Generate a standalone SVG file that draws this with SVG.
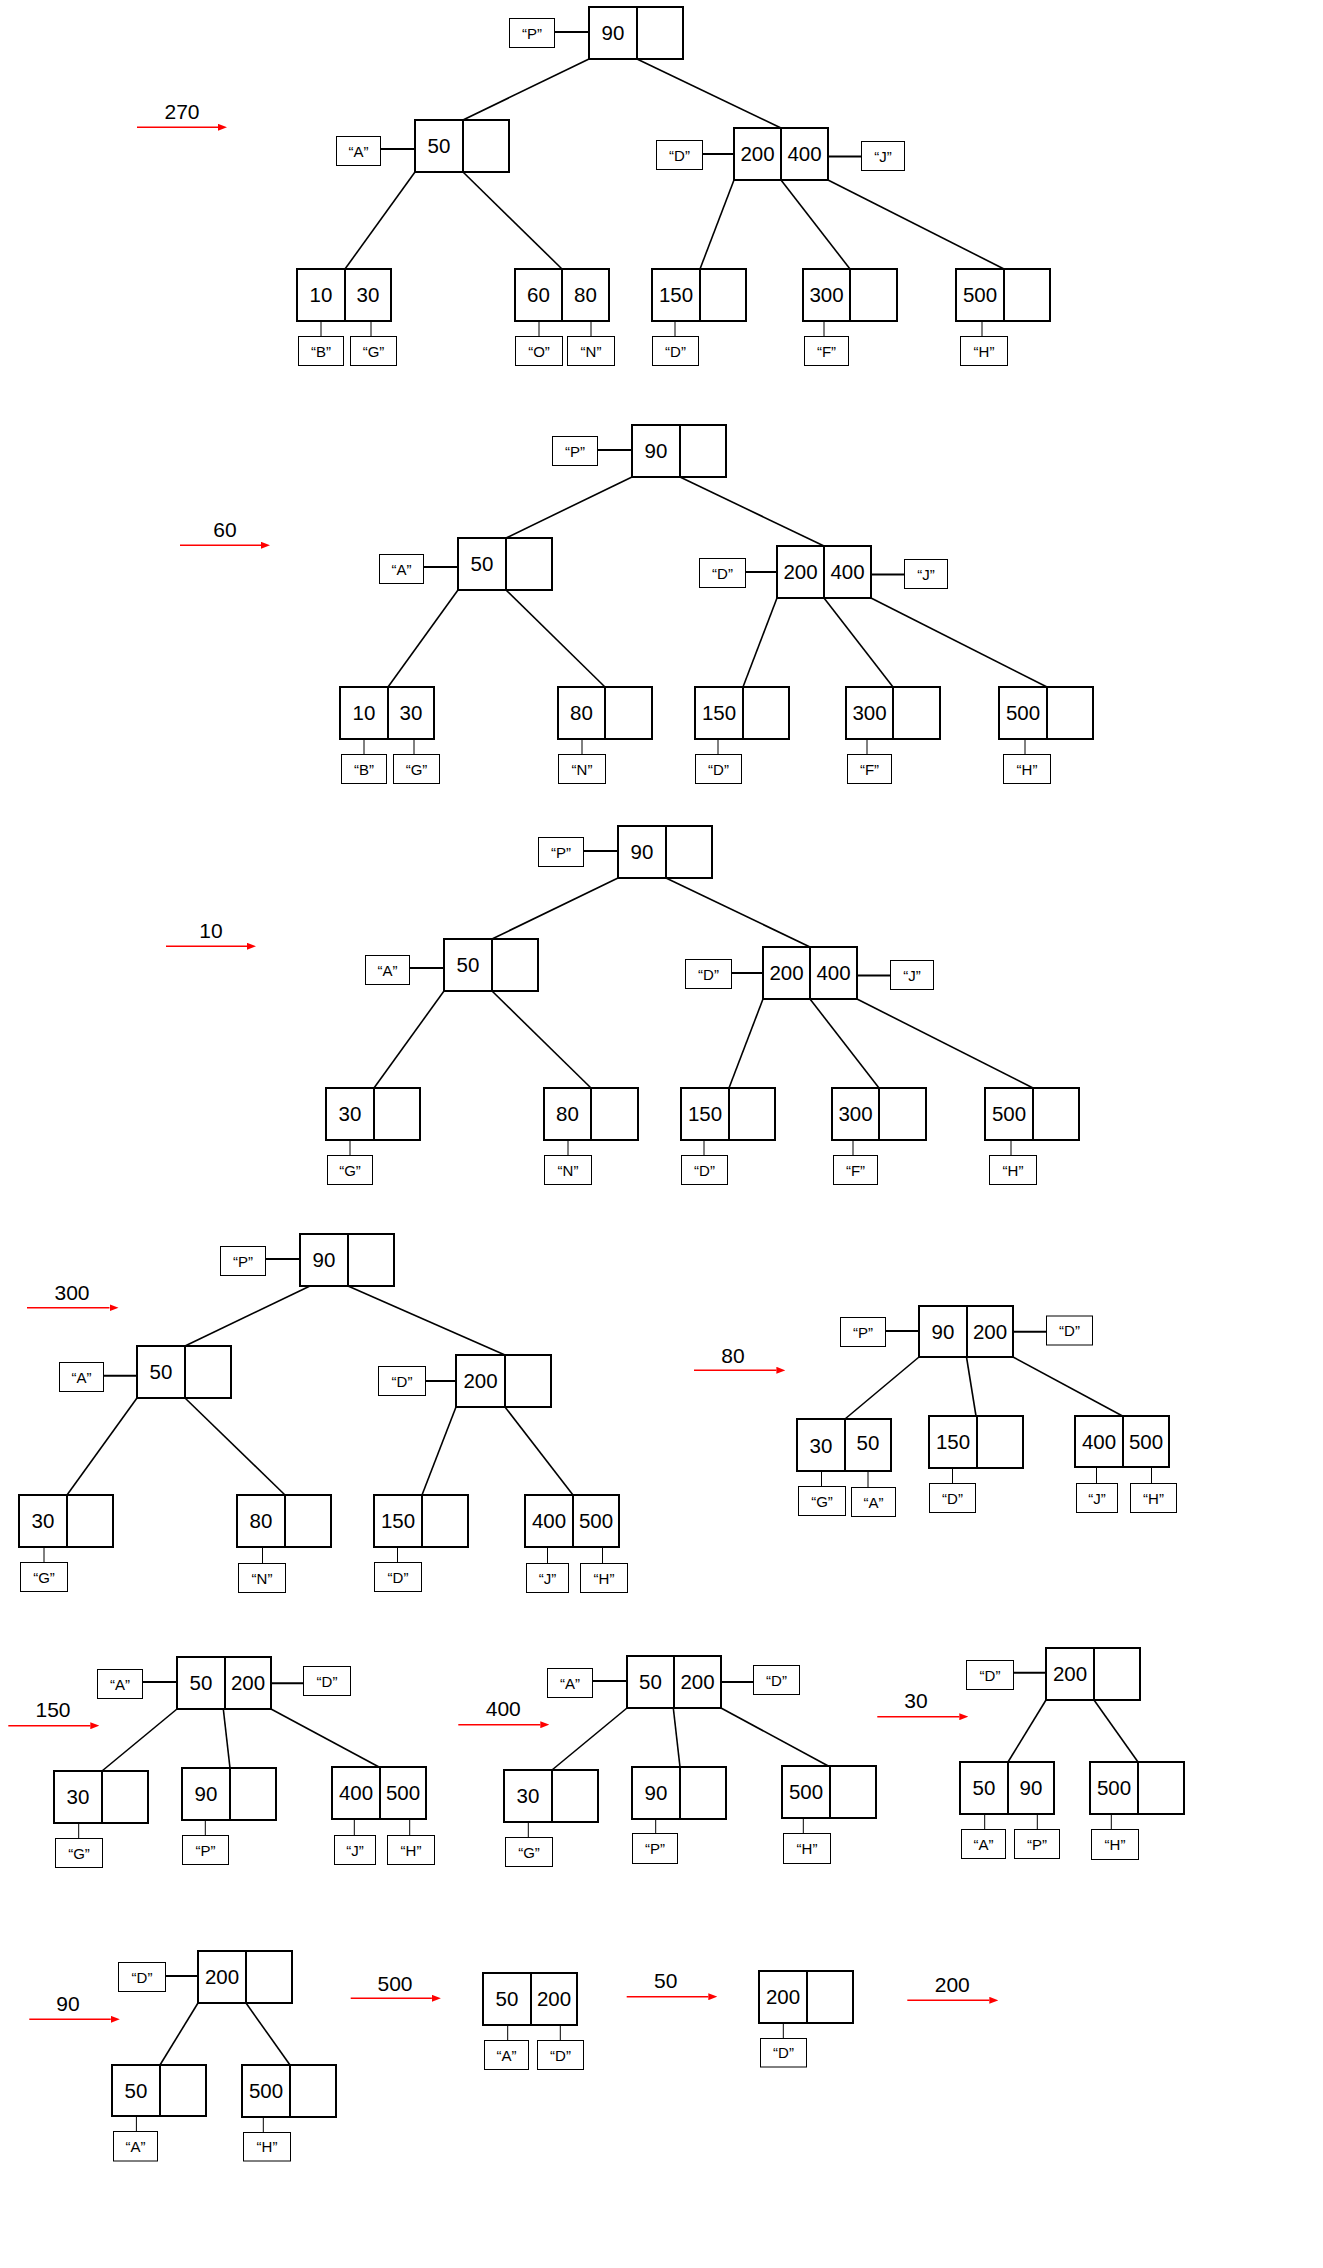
<svg xmlns="http://www.w3.org/2000/svg" width="1323" height="2268" viewBox="0 0 1323 2268">
<style>
.cell{fill:#fff;stroke:#000;stroke-width:2}
.dv{stroke:#000;stroke-width:2}
.lbl{fill:#fff;stroke:#000;stroke-width:1}
.edge{stroke:#000;stroke-width:1.6;fill:none}
.link{stroke:#000;stroke-width:2}
.stem{stroke:#000;stroke-width:1}
.arr{stroke:#f00;stroke-width:1.4;marker-end:url(#ah)}
text{font-family:"Liberation Sans",Arial,sans-serif;fill:#000;text-anchor:middle}
.num{font-size:20.5px}
.lt{font-size:15px}
.st{font-size:21px}
</style>
<defs>
<marker id="ah" markerWidth="9" markerHeight="7" refX="0" refY="3.5" orient="auto" markerUnits="userSpaceOnUse"><path d="M0,0 L9,3.5 L0,7 z" fill="#f00"/></marker>
</defs>
<rect width="1323" height="2268" fill="#fff"/>

<!-- ===== Tree 1 (delete 270) ===== -->
<g id="tree1">
<g id="t1-connectors">
<line class="arr" x1="137" y1="127.3" x2="218" y2="127.3"/>
<line class="edge" x1="589" y1="59" x2="463" y2="120"/>
<line class="edge" x1="637" y1="59" x2="781" y2="128"/>
<line class="edge" x1="415" y1="172" x2="345" y2="269"/>
<line class="edge" x1="463" y1="172" x2="562" y2="269"/>
<line class="edge" x1="734" y1="180" x2="700" y2="269"/>
<line class="edge" x1="781" y1="180" x2="850" y2="269"/>
<line class="edge" x1="828" y1="180" x2="1004" y2="269"/>
<line class="link" x1="554.5" y1="32" x2="589" y2="32"/>
<line class="link" x1="380.5" y1="149" x2="415" y2="149"/>
<line class="link" x1="702.5" y1="154" x2="734" y2="154"/>
<line class="link" x1="828" y1="156.5" x2="861.5" y2="156.5"/>
<line class="stem" x1="321" y1="321" x2="321" y2="336"/>
<line class="stem" x1="371" y1="321" x2="371" y2="336"/>
<line class="stem" x1="539" y1="321" x2="539" y2="336"/>
<line class="stem" x1="591" y1="321" x2="591" y2="336"/>
<line class="stem" x1="675" y1="321" x2="675" y2="336"/>
<line class="stem" x1="824" y1="321" x2="824" y2="336"/>
<line class="stem" x1="982" y1="321" x2="982" y2="336"/>
</g>
<text class="st" x="182" y="119">270</text>
<g id="t1-n90"><rect class="cell" x="589" y="7" width="94" height="52"/><line class="dv" x1="637" y1="7" x2="637" y2="59"/><text class="num" x="613" y="40">90</text></g>
<g id="t1-n50"><rect class="cell" x="415" y="120" width="94" height="52"/><line class="dv" x1="463" y1="120" x2="463" y2="172"/><text class="num" x="439" y="153">50</text></g>
<g id="t1-n200"><rect class="cell" x="734" y="128" width="94" height="52"/><line class="dv" x1="781" y1="128" x2="781" y2="180"/><text class="num" x="757.5" y="161">200</text><text class="num" x="804.5" y="161">400</text></g>
<g id="t1-n10"><rect class="cell" x="297" y="269" width="94" height="52"/><line class="dv" x1="345" y1="269" x2="345" y2="321"/><text class="num" x="321" y="302">10</text><text class="num" x="368" y="302">30</text></g>
<g id="t1-n60"><rect class="cell" x="515" y="269" width="94" height="52"/><line class="dv" x1="562" y1="269" x2="562" y2="321"/><text class="num" x="538.5" y="302">60</text><text class="num" x="585.5" y="302">80</text></g>
<g id="t1-n150"><rect class="cell" x="652" y="269" width="94" height="52"/><line class="dv" x1="700" y1="269" x2="700" y2="321"/><text class="num" x="676" y="302">150</text></g>
<g id="t1-n300"><rect class="cell" x="803" y="269" width="94" height="52"/><line class="dv" x1="850" y1="269" x2="850" y2="321"/><text class="num" x="826.5" y="302">300</text></g>
<g id="t1-n500"><rect class="cell" x="956" y="269" width="94" height="52"/><line class="dv" x1="1004" y1="269" x2="1004" y2="321"/><text class="num" x="980" y="302">500</text></g>
<g id="t1-lP"><rect class="lbl" x="509.5" y="18.5" width="45" height="29"/><text class="lt" x="532" y="38.5">“P”</text></g>
<g id="t1-lA"><rect class="lbl" x="336.5" y="136.5" width="44" height="29"/><text class="lt" x="358.5" y="156.5">“A”</text></g>
<g id="t1-lD"><rect class="lbl" x="656.5" y="140.5" width="46" height="29"/><text class="lt" x="679.5" y="160.5">“D”</text></g>
<g id="t1-lJ"><rect class="lbl" x="861.5" y="141.5" width="43" height="29"/><text class="lt" x="883" y="161.5">“J”</text></g>
<g id="t1-lB"><rect class="lbl" x="298.5" y="336.5" width="45" height="29"/><text class="lt" x="321" y="356.5">“B”</text></g>
<g id="t1-lG"><rect class="lbl" x="350.5" y="336.5" width="46" height="29"/><text class="lt" x="373.5" y="356.5">“G”</text></g>
<g id="t1-lO"><rect class="lbl" x="515.5" y="336.5" width="47" height="29"/><text class="lt" x="539" y="356.5">“O”</text></g>
<g id="t1-lN"><rect class="lbl" x="567.5" y="336.5" width="47" height="29"/><text class="lt" x="591" y="356.5">“N”</text></g>
<g id="t1-lD2"><rect class="lbl" x="652.5" y="336.5" width="46" height="29"/><text class="lt" x="675.5" y="356.5">“D”</text></g>
<g id="t1-lF"><rect class="lbl" x="804.5" y="336.5" width="44" height="29"/><text class="lt" x="826.5" y="356.5">“F”</text></g>
<g id="t1-lH"><rect class="lbl" x="960.5" y="336.5" width="47" height="29"/><text class="lt" x="984" y="356.5">“H”</text></g>
</g>

<!-- ===== Tree 2 (delete 60) ===== -->
<g id="tree2" transform="translate(43,418)">
<g id="t2-connectors">
<line class="arr" x1="137" y1="127.3" x2="218" y2="127.3"/>
<line class="edge" x1="589" y1="59" x2="463" y2="120"/>
<line class="edge" x1="637" y1="59" x2="781" y2="128"/>
<line class="edge" x1="415" y1="172" x2="345" y2="269"/>
<line class="edge" x1="463" y1="172" x2="562" y2="269"/>
<line class="edge" x1="734" y1="180" x2="700" y2="269"/>
<line class="edge" x1="781" y1="180" x2="850" y2="269"/>
<line class="edge" x1="828" y1="180" x2="1004" y2="269"/>
<line class="link" x1="554.5" y1="32" x2="589" y2="32"/>
<line class="link" x1="380.5" y1="149" x2="415" y2="149"/>
<line class="link" x1="702.5" y1="154" x2="734" y2="154"/>
<line class="link" x1="828" y1="156.5" x2="861.5" y2="156.5"/>
<line class="stem" x1="321" y1="321" x2="321" y2="336"/>
<line class="stem" x1="371" y1="321" x2="371" y2="336"/>
<line class="stem" x1="539" y1="321" x2="539" y2="336"/>
<line class="stem" x1="675" y1="321" x2="675" y2="336"/>
<line class="stem" x1="824" y1="321" x2="824" y2="336"/>
<line class="stem" x1="982" y1="321" x2="982" y2="336"/>
</g>
<text class="st" x="182" y="119">60</text>
<g id="t2-n90"><rect class="cell" x="589" y="7" width="94" height="52"/><line class="dv" x1="637" y1="7" x2="637" y2="59"/><text class="num" x="613" y="40">90</text></g>
<g id="t2-n50"><rect class="cell" x="415" y="120" width="94" height="52"/><line class="dv" x1="463" y1="120" x2="463" y2="172"/><text class="num" x="439" y="153">50</text></g>
<g id="t2-n200"><rect class="cell" x="734" y="128" width="94" height="52"/><line class="dv" x1="781" y1="128" x2="781" y2="180"/><text class="num" x="757.5" y="161">200</text><text class="num" x="804.5" y="161">400</text></g>
<g id="t2-n10"><rect class="cell" x="297" y="269" width="94" height="52"/><line class="dv" x1="345" y1="269" x2="345" y2="321"/><text class="num" x="321" y="302">10</text><text class="num" x="368" y="302">30</text></g>
<g id="t2-n80"><rect class="cell" x="515" y="269" width="94" height="52"/><line class="dv" x1="562" y1="269" x2="562" y2="321"/><text class="num" x="538.5" y="302">80</text></g>
<g id="t2-n150"><rect class="cell" x="652" y="269" width="94" height="52"/><line class="dv" x1="700" y1="269" x2="700" y2="321"/><text class="num" x="676" y="302">150</text></g>
<g id="t2-n300"><rect class="cell" x="803" y="269" width="94" height="52"/><line class="dv" x1="850" y1="269" x2="850" y2="321"/><text class="num" x="826.5" y="302">300</text></g>
<g id="t2-n500"><rect class="cell" x="956" y="269" width="94" height="52"/><line class="dv" x1="1004" y1="269" x2="1004" y2="321"/><text class="num" x="980" y="302">500</text></g>
<g id="t2-lP"><rect class="lbl" x="509.5" y="18.5" width="45" height="29"/><text class="lt" x="532" y="38.5">“P”</text></g>
<g id="t2-lA"><rect class="lbl" x="336.5" y="136.5" width="44" height="29"/><text class="lt" x="358.5" y="156.5">“A”</text></g>
<g id="t2-lD"><rect class="lbl" x="656.5" y="140.5" width="46" height="29"/><text class="lt" x="679.5" y="160.5">“D”</text></g>
<g id="t2-lJ"><rect class="lbl" x="861.5" y="141.5" width="43" height="29"/><text class="lt" x="883" y="161.5">“J”</text></g>
<g id="t2-lB"><rect class="lbl" x="298.5" y="336.5" width="45" height="29"/><text class="lt" x="321" y="356.5">“B”</text></g>
<g id="t2-lG"><rect class="lbl" x="350.5" y="336.5" width="46" height="29"/><text class="lt" x="373.5" y="356.5">“G”</text></g>
<g id="t2-lN"><rect class="lbl" x="515.5" y="336.5" width="47" height="29"/><text class="lt" x="539" y="356.5">“N”</text></g>
<g id="t2-lD2"><rect class="lbl" x="652.5" y="336.5" width="46" height="29"/><text class="lt" x="675.5" y="356.5">“D”</text></g>
<g id="t2-lF"><rect class="lbl" x="804.5" y="336.5" width="44" height="29"/><text class="lt" x="826.5" y="356.5">“F”</text></g>
<g id="t2-lH"><rect class="lbl" x="960.5" y="336.5" width="47" height="29"/><text class="lt" x="984" y="356.5">“H”</text></g>
</g>

<!-- ===== Tree 3 (delete 10) ===== -->
<g id="tree3" transform="translate(29,819)">
<g id="t3-connectors">
<line class="arr" x1="137" y1="127.3" x2="218" y2="127.3"/>
<line class="edge" x1="589" y1="59" x2="463" y2="120"/>
<line class="edge" x1="637" y1="59" x2="781" y2="128"/>
<line class="edge" x1="415" y1="172" x2="345" y2="269"/>
<line class="edge" x1="463" y1="172" x2="562" y2="269"/>
<line class="edge" x1="734" y1="180" x2="700" y2="269"/>
<line class="edge" x1="781" y1="180" x2="850" y2="269"/>
<line class="edge" x1="828" y1="180" x2="1004" y2="269"/>
<line class="link" x1="554.5" y1="32" x2="589" y2="32"/>
<line class="link" x1="380.5" y1="149" x2="415" y2="149"/>
<line class="link" x1="702.5" y1="154" x2="734" y2="154"/>
<line class="link" x1="828" y1="156.5" x2="861.5" y2="156.5"/>
<line class="stem" x1="321" y1="321" x2="321" y2="336"/>
<line class="stem" x1="539" y1="321" x2="539" y2="336"/>
<line class="stem" x1="675" y1="321" x2="675" y2="336"/>
<line class="stem" x1="824" y1="321" x2="824" y2="336"/>
<line class="stem" x1="982" y1="321" x2="982" y2="336"/>
</g>
<text class="st" x="182" y="119">10</text>
<g id="t3-n90"><rect class="cell" x="589" y="7" width="94" height="52"/><line class="dv" x1="637" y1="7" x2="637" y2="59"/><text class="num" x="613" y="40">90</text></g>
<g id="t3-n50"><rect class="cell" x="415" y="120" width="94" height="52"/><line class="dv" x1="463" y1="120" x2="463" y2="172"/><text class="num" x="439" y="153">50</text></g>
<g id="t3-n200"><rect class="cell" x="734" y="128" width="94" height="52"/><line class="dv" x1="781" y1="128" x2="781" y2="180"/><text class="num" x="757.5" y="161">200</text><text class="num" x="804.5" y="161">400</text></g>
<g id="t3-n30"><rect class="cell" x="297" y="269" width="94" height="52"/><line class="dv" x1="345" y1="269" x2="345" y2="321"/><text class="num" x="321" y="302">30</text></g>
<g id="t3-n80"><rect class="cell" x="515" y="269" width="94" height="52"/><line class="dv" x1="562" y1="269" x2="562" y2="321"/><text class="num" x="538.5" y="302">80</text></g>
<g id="t3-n150"><rect class="cell" x="652" y="269" width="94" height="52"/><line class="dv" x1="700" y1="269" x2="700" y2="321"/><text class="num" x="676" y="302">150</text></g>
<g id="t3-n300"><rect class="cell" x="803" y="269" width="94" height="52"/><line class="dv" x1="850" y1="269" x2="850" y2="321"/><text class="num" x="826.5" y="302">300</text></g>
<g id="t3-n500"><rect class="cell" x="956" y="269" width="94" height="52"/><line class="dv" x1="1004" y1="269" x2="1004" y2="321"/><text class="num" x="980" y="302">500</text></g>
<g id="t3-lP"><rect class="lbl" x="509.5" y="18.5" width="45" height="29"/><text class="lt" x="532" y="38.5">“P”</text></g>
<g id="t3-lA"><rect class="lbl" x="336.5" y="136.5" width="44" height="29"/><text class="lt" x="358.5" y="156.5">“A”</text></g>
<g id="t3-lD"><rect class="lbl" x="656.5" y="140.5" width="46" height="29"/><text class="lt" x="679.5" y="160.5">“D”</text></g>
<g id="t3-lJ"><rect class="lbl" x="861.5" y="141.5" width="43" height="29"/><text class="lt" x="883" y="161.5">“J”</text></g>
<g id="t3-lG"><rect class="lbl" x="298.5" y="336.5" width="45" height="29"/><text class="lt" x="321" y="356.5">“G”</text></g>
<g id="t3-lN"><rect class="lbl" x="515.5" y="336.5" width="47" height="29"/><text class="lt" x="539" y="356.5">“N”</text></g>
<g id="t3-lD2"><rect class="lbl" x="652.5" y="336.5" width="46" height="29"/><text class="lt" x="675.5" y="356.5">“D”</text></g>
<g id="t3-lF"><rect class="lbl" x="804.5" y="336.5" width="44" height="29"/><text class="lt" x="826.5" y="356.5">“F”</text></g>
<g id="t3-lH"><rect class="lbl" x="960.5" y="336.5" width="47" height="29"/><text class="lt" x="984" y="356.5">“H”</text></g>
</g>

<!-- ===== Tree 4 (delete 300) ===== -->
<g id="tree4">
<g id="t4-connectors">
<line class="arr" x1="27" y1="1307.7" x2="109.5" y2="1307.7"/>
<line class="edge" x1="310" y1="1286" x2="185" y2="1346"/>
<line class="edge" x1="348" y1="1286" x2="505" y2="1355"/>
<line class="edge" x1="137" y1="1398" x2="67" y2="1495"/>
<line class="edge" x1="185" y1="1398" x2="285" y2="1495"/>
<line class="edge" x1="456" y1="1407" x2="422" y2="1495"/>
<line class="edge" x1="505" y1="1407" x2="573" y2="1495"/>
<line class="link" x1="265.5" y1="1259" x2="300" y2="1259"/>
<line class="link" x1="103.5" y1="1375.7" x2="137" y2="1375.7"/>
<line class="link" x1="425.5" y1="1381" x2="456" y2="1381"/>
<line class="stem" x1="44" y1="1547" x2="44" y2="1562.5"/>
<line class="stem" x1="262.5" y1="1547" x2="262.5" y2="1563.5"/>
<line class="stem" x1="397.5" y1="1547" x2="397.5" y2="1562.5"/>
<line class="stem" x1="547.5" y1="1547" x2="547.5" y2="1563.5"/>
<line class="stem" x1="602.5" y1="1547" x2="602.5" y2="1563.5"/>
</g>
<text class="st" x="72" y="1300">300</text>
<g id="t4-n90"><rect class="cell" x="300" y="1234" width="94" height="52"/><line class="dv" x1="348" y1="1234" x2="348" y2="1286"/><text class="num" x="324" y="1267">90</text></g>
<g id="t4-n50"><rect class="cell" x="137" y="1346" width="94" height="52"/><line class="dv" x1="185" y1="1346" x2="185" y2="1398"/><text class="num" x="161" y="1379">50</text></g>
<g id="t4-n200"><rect class="cell" x="456" y="1355" width="95" height="52"/><line class="dv" x1="505" y1="1355" x2="505" y2="1407"/><text class="num" x="480.5" y="1388">200</text></g>
<g id="t4-n30"><rect class="cell" x="19" y="1495" width="94" height="52"/><line class="dv" x1="67" y1="1495" x2="67" y2="1547"/><text class="num" x="43" y="1528">30</text></g>
<g id="t4-n80"><rect class="cell" x="237" y="1495" width="94" height="52"/><line class="dv" x1="285" y1="1495" x2="285" y2="1547"/><text class="num" x="261" y="1528">80</text></g>
<g id="t4-n150"><rect class="cell" x="374" y="1495" width="94" height="52"/><line class="dv" x1="422" y1="1495" x2="422" y2="1547"/><text class="num" x="398" y="1528">150</text></g>
<g id="t4-n400"><rect class="cell" x="525" y="1495" width="94" height="52"/><line class="dv" x1="573" y1="1495" x2="573" y2="1547"/><text class="num" x="549" y="1528">400</text><text class="num" x="596" y="1528">500</text></g>
<g id="t4-lP"><rect class="lbl" x="220.5" y="1246.5" width="45" height="29"/><text class="lt" x="243" y="1266.5">“P”</text></g>
<g id="t4-lA"><rect class="lbl" x="59.5" y="1362.5" width="44" height="29"/><text class="lt" x="81.5" y="1382.5">“A”</text></g>
<g id="t4-lD"><rect class="lbl" x="378.5" y="1366.5" width="47" height="29"/><text class="lt" x="402" y="1386.5">“D”</text></g>
<g id="t4-lG"><rect class="lbl" x="20.5" y="1562.5" width="47" height="29"/><text class="lt" x="44" y="1582.5">“G”</text></g>
<g id="t4-lN"><rect class="lbl" x="238.5" y="1563.5" width="47" height="29"/><text class="lt" x="262" y="1583.5">“N”</text></g>
<g id="t4-lD2"><rect class="lbl" x="374.5" y="1562.5" width="47" height="29"/><text class="lt" x="398" y="1582.5">“D”</text></g>
<g id="t4-lJ"><rect class="lbl" x="526.5" y="1563.5" width="42" height="29"/><text class="lt" x="547.5" y="1583.5">“J”</text></g>
<g id="t4-lH"><rect class="lbl" x="580.5" y="1563.5" width="47" height="29"/><text class="lt" x="604" y="1583.5">“H”</text></g>
</g>

<!-- ===== Tree 5 (delete 80) ===== -->
<g id="tree5">
<g id="t5-connectors">
<line class="arr" x1="694" y1="1370.3" x2="776.4" y2="1370.3"/>
<line class="edge" x1="919" y1="1357" x2="845" y2="1419"/>
<line class="edge" x1="966.5" y1="1357" x2="976" y2="1416"/>
<line class="edge" x1="1013" y1="1357" x2="1122.5" y2="1416"/>
<line class="link" x1="885.5" y1="1331" x2="919" y2="1331"/>
<line class="link" x1="1013" y1="1331.7" x2="1046.5" y2="1331.7"/>
<line class="stem" x1="821.5" y1="1471" x2="821.5" y2="1486.5"/>
<line class="stem" x1="868" y1="1471" x2="868" y2="1487.5"/>
<line class="stem" x1="952.5" y1="1468" x2="952.5" y2="1483.5"/>
<line class="stem" x1="1096.5" y1="1467" x2="1096.5" y2="1483.5"/>
<line class="stem" x1="1151.5" y1="1467" x2="1151.5" y2="1483.5"/>
</g>
<text class="st" x="733" y="1362.7">80</text>
<g id="t5-n90"><rect class="cell" x="919" y="1306" width="94" height="51"/><line class="dv" x1="967" y1="1306" x2="967" y2="1357"/><text class="num" x="943" y="1338.5">90</text><text class="num" x="990" y="1338.5">200</text></g>
<g id="t5-n30"><rect class="cell" x="797" y="1419" width="94" height="52"/><line class="dv" x1="845" y1="1419" x2="845" y2="1471"/><text class="num" x="821" y="1453">30</text><text class="num" x="868" y="1450">50</text></g>
<g id="t5-n150"><rect class="cell" x="929" y="1416" width="94" height="52"/><line class="dv" x1="977" y1="1416" x2="977" y2="1468"/><text class="num" x="953" y="1449">150</text></g>
<g id="t5-n400"><rect class="cell" x="1075" y="1416" width="94" height="51"/><line class="dv" x1="1123" y1="1416" x2="1123" y2="1467"/><text class="num" x="1099" y="1448.5">400</text><text class="num" x="1146" y="1448.5">500</text></g>
<g id="t5-lP"><rect class="lbl" x="840.5" y="1317.5" width="45" height="29"/><text class="lt" x="863" y="1337.5">“P”</text></g>
<g id="t5-lD"><rect class="lbl" x="1046.5" y="1316" width="46" height="29"/><text class="lt" x="1069.5" y="1336">“D”</text></g>
<g id="t5-lG"><rect class="lbl" x="798.5" y="1486.5" width="47" height="29"/><text class="lt" x="822" y="1506.5">“G”</text></g>
<g id="t5-lA"><rect class="lbl" x="851.5" y="1487.5" width="44" height="29"/><text class="lt" x="873.5" y="1507.5">“A”</text></g>
<g id="t5-lD2"><rect class="lbl" x="929.5" y="1483.5" width="46" height="29"/><text class="lt" x="952.5" y="1503.5">“D”</text></g>
<g id="t5-lJ"><rect class="lbl" x="1076.5" y="1483.5" width="41" height="29"/><text class="lt" x="1097" y="1503.5">“J”</text></g>
<g id="t5-lH"><rect class="lbl" x="1130.5" y="1483.5" width="46" height="29"/><text class="lt" x="1153.5" y="1503.5">“H”</text></g>
</g>

<!-- ===== Tree 6 (delete 150) ===== -->
<g id="tree6">
<g id="t6-connectors">
<line class="arr" x1="8.3" y1="1725.7" x2="90.3" y2="1725.7"/>
<line class="edge" x1="177" y1="1709" x2="102" y2="1771"/>
<line class="edge" x1="223.3" y1="1709" x2="230" y2="1768"/>
<line class="edge" x1="271" y1="1709" x2="379" y2="1767"/>
<line class="link" x1="142.5" y1="1682" x2="177" y2="1682"/>
<line class="link" x1="271" y1="1683.3" x2="303.5" y2="1683.3"/>
<line class="stem" x1="78.7" y1="1823" x2="78.7" y2="1838.5"/>
<line class="stem" x1="205.3" y1="1820" x2="205.3" y2="1835.5"/>
<line class="stem" x1="354.3" y1="1819" x2="354.3" y2="1835.5"/>
<line class="stem" x1="409.7" y1="1819" x2="409.7" y2="1835.5"/>
</g>
<text class="st" x="53" y="1717">150</text>
<g id="t6-n50"><rect class="cell" x="177" y="1657" width="94" height="52"/><line class="dv" x1="225" y1="1657" x2="225" y2="1709"/><text class="num" x="201" y="1690">50</text><text class="num" x="248" y="1690">200</text></g>
<g id="t6-n30"><rect class="cell" x="54" y="1771" width="94" height="52"/><line class="dv" x1="102" y1="1771" x2="102" y2="1823"/><text class="num" x="78" y="1804">30</text></g>
<g id="t6-n90"><rect class="cell" x="182" y="1768" width="94" height="52"/><line class="dv" x1="230" y1="1768" x2="230" y2="1820"/><text class="num" x="206" y="1801">90</text></g>
<g id="t6-n400"><rect class="cell" x="332" y="1767" width="94" height="52"/><line class="dv" x1="380" y1="1767" x2="380" y2="1819"/><text class="num" x="356" y="1800">400</text><text class="num" x="403" y="1800">500</text></g>
<g id="t6-lA"><rect class="lbl" x="97.5" y="1669.5" width="45" height="29"/><text class="lt" x="120" y="1689.5">“A”</text></g>
<g id="t6-lD"><rect class="lbl" x="303.5" y="1666.5" width="47" height="29"/><text class="lt" x="327" y="1686.5">“D”</text></g>
<g id="t6-lG"><rect class="lbl" x="55.5" y="1838.5" width="47" height="29"/><text class="lt" x="79" y="1858.5">“G”</text></g>
<g id="t6-lP"><rect class="lbl" x="182.5" y="1835.5" width="46" height="29"/><text class="lt" x="205.5" y="1855.5">“P”</text></g>
<g id="t6-lJ"><rect class="lbl" x="334.5" y="1835.5" width="41" height="29"/><text class="lt" x="355" y="1855.5">“J”</text></g>
<g id="t6-lH"><rect class="lbl" x="387.5" y="1835.5" width="47" height="29"/><text class="lt" x="411" y="1855.5">“H”</text></g>
</g>

<!-- ===== Tree 7 (delete 400) ===== -->
<g id="tree7">
<g id="t7-connectors">
<line class="arr" x1="458.3" y1="1724.7" x2="540.3" y2="1724.7"/>
<line class="edge" x1="627" y1="1708" x2="552" y2="1770"/>
<line class="edge" x1="673.3" y1="1708" x2="680" y2="1767"/>
<line class="edge" x1="721" y1="1708" x2="828.3" y2="1766"/>
<line class="link" x1="592.5" y1="1681" x2="627" y2="1681"/>
<line class="link" x1="721" y1="1682" x2="753.5" y2="1682"/>
<line class="stem" x1="528.3" y1="1822" x2="528.3" y2="1837.5"/>
<line class="stem" x1="655.7" y1="1819" x2="655.7" y2="1833.5"/>
<line class="stem" x1="803.3" y1="1818" x2="803.3" y2="1833.5"/>
</g>
<text class="st" x="503.3" y="1716">400</text>
<g id="t7-n50"><rect class="cell" x="627" y="1656" width="94" height="52"/><line class="dv" x1="674" y1="1656" x2="674" y2="1708"/><text class="num" x="650.5" y="1689">50</text><text class="num" x="697.5" y="1689">200</text></g>
<g id="t7-n30"><rect class="cell" x="504" y="1770" width="94" height="52"/><line class="dv" x1="552" y1="1770" x2="552" y2="1822"/><text class="num" x="528" y="1803">30</text></g>
<g id="t7-n90"><rect class="cell" x="632" y="1767" width="94" height="52"/><line class="dv" x1="680" y1="1767" x2="680" y2="1819"/><text class="num" x="656" y="1800">90</text></g>
<g id="t7-n500"><rect class="cell" x="782" y="1766" width="94" height="52"/><line class="dv" x1="830" y1="1766" x2="830" y2="1818"/><text class="num" x="806" y="1799">500</text></g>
<g id="t7-lA"><rect class="lbl" x="547.5" y="1668.5" width="45" height="29"/><text class="lt" x="570" y="1688.5">“A”</text></g>
<g id="t7-lD"><rect class="lbl" x="753.5" y="1665.5" width="46" height="29"/><text class="lt" x="776.5" y="1685.5">“D”</text></g>
<g id="t7-lG"><rect class="lbl" x="505.5" y="1837.5" width="47" height="29"/><text class="lt" x="529" y="1857.5">“G”</text></g>
<g id="t7-lP"><rect class="lbl" x="632.5" y="1833.5" width="45" height="30"/><text class="lt" x="655" y="1854">“P”</text></g>
<g id="t7-lH"><rect class="lbl" x="783.5" y="1833.5" width="47" height="30"/><text class="lt" x="807" y="1854">“H”</text></g>
</g>

<!-- ===== Tree 8 (delete 30) ===== -->
<g id="tree8">
<g id="t8-connectors">
<line class="arr" x1="877.3" y1="1716.7" x2="959.3" y2="1716.7"/>
<line class="edge" x1="1046" y1="1700" x2="1008" y2="1762"/>
<line class="edge" x1="1094" y1="1700" x2="1138" y2="1762"/>
<line class="link" x1="1013.5" y1="1672.7" x2="1046" y2="1672.7"/>
<line class="stem" x1="984.7" y1="1814" x2="984.7" y2="1829.5"/>
<line class="stem" x1="1037.3" y1="1814" x2="1037.3" y2="1829.5"/>
<line class="stem" x1="1111.3" y1="1814" x2="1111.3" y2="1829.5"/>
</g>
<text class="st" x="916" y="1707.7">30</text>
<g id="t8-n200"><rect class="cell" x="1046" y="1648" width="94" height="52"/><line class="dv" x1="1094" y1="1648" x2="1094" y2="1700"/><text class="num" x="1070" y="1681">200</text></g>
<g id="t8-n50"><rect class="cell" x="960" y="1762" width="94" height="52"/><line class="dv" x1="1008" y1="1762" x2="1008" y2="1814"/><text class="num" x="984" y="1795">50</text><text class="num" x="1031" y="1795">90</text></g>
<g id="t8-n500"><rect class="cell" x="1090" y="1762" width="94" height="52"/><line class="dv" x1="1138" y1="1762" x2="1138" y2="1814"/><text class="num" x="1114" y="1795">500</text></g>
<g id="t8-lD"><rect class="lbl" x="966.5" y="1660.5" width="47" height="29"/><text class="lt" x="990" y="1680.5">“D”</text></g>
<g id="t8-lA"><rect class="lbl" x="961.5" y="1829.5" width="44" height="29"/><text class="lt" x="983.5" y="1849.5">“A”</text></g>
<g id="t8-lP"><rect class="lbl" x="1014.5" y="1829.5" width="45" height="29"/><text class="lt" x="1037" y="1849.5">“P”</text></g>
<g id="t8-lH"><rect class="lbl" x="1091.5" y="1829.5" width="47" height="30"/><text class="lt" x="1115" y="1850">“H”</text></g>
</g>

<!-- ===== Tree 9 (delete 90) ===== -->
<g id="tree9">
<g id="t9-connectors">
<line class="arr" x1="29.3" y1="2019.3" x2="110.8" y2="2019.3"/>
<line class="edge" x1="198" y1="2003" x2="160" y2="2065"/>
<line class="edge" x1="246" y1="2003" x2="290" y2="2065"/>
<line class="link" x1="165.5" y1="1976" x2="198" y2="1976"/>
<line class="stem" x1="136.4" y1="2116" x2="136.4" y2="2131.5"/>
<line class="stem" x1="263.3" y1="2117" x2="263.3" y2="2132.5"/>
</g>
<text class="st" x="68" y="2011">90</text>
<g id="t9-n200"><rect class="cell" x="198" y="1951" width="94" height="52"/><line class="dv" x1="246" y1="1951" x2="246" y2="2003"/><text class="num" x="222" y="1984">200</text></g>
<g id="t9-n50"><rect class="cell" x="112" y="2065" width="94" height="51"/><line class="dv" x1="160" y1="2065" x2="160" y2="2116"/><text class="num" x="136" y="2097.5">50</text></g>
<g id="t9-n500"><rect class="cell" x="242" y="2065" width="94" height="52"/><line class="dv" x1="290" y1="2065" x2="290" y2="2117"/><text class="num" x="266" y="2098">500</text></g>
<g id="t9-lD"><rect class="lbl" x="118.5" y="1962.5" width="47" height="29"/><text class="lt" x="142" y="1982.5">“D”</text></g>
<g id="t9-lA"><rect class="lbl" x="113.5" y="2131.5" width="44" height="29.5"/><text class="lt" x="135.5" y="2151.5">“A”</text></g>
<g id="t9-lH"><rect class="lbl" x="243.5" y="2132.5" width="47" height="28.5"/><text class="lt" x="267" y="2152">“H”</text></g>
</g>

<!-- ===== Tree 10 (delete 500) ===== -->
<g id="tree10">
<g id="t10-connectors">
<line class="arr" x1="350.7" y1="1998.3" x2="431.9" y2="1998.3"/>
<line class="stem" x1="507.7" y1="2025" x2="507.7" y2="2040.5"/>
<line class="stem" x1="560.3" y1="2025" x2="560.3" y2="2040.5"/>
</g>
<text class="st" x="395" y="1990.7">500</text>
<g id="t10-n50"><rect class="cell" x="483" y="1973" width="94" height="52"/><line class="dv" x1="531" y1="1973" x2="531" y2="2025"/><text class="num" x="507" y="2006">50</text><text class="num" x="554" y="2006">200</text></g>
<g id="t10-lA"><rect class="lbl" x="484.5" y="2040.5" width="44" height="29"/><text class="lt" x="506.5" y="2060.5">“A”</text></g>
<g id="t10-lD"><rect class="lbl" x="537.5" y="2040.5" width="46" height="29"/><text class="lt" x="560.5" y="2060.5">“D”</text></g>
</g>

<!-- ===== Tree 11 (delete 50) ===== -->
<g id="tree11">
<g id="t11-connectors">
<line class="arr" x1="626.7" y1="1996.7" x2="708.3" y2="1996.7"/>
<line class="stem" x1="783.3" y1="2023" x2="783.3" y2="2038.5"/>
</g>
<text class="st" x="665.7" y="1987.7">50</text>
<g id="t11-n200"><rect class="cell" x="759" y="1971" width="94" height="52"/><line class="dv" x1="807" y1="1971" x2="807" y2="2023"/><text class="num" x="783" y="2004">200</text></g>
<g id="t11-lD"><rect class="lbl" x="760.5" y="2038.5" width="46" height="28.5"/><text class="lt" x="783.5" y="2058">“D”</text></g>
</g>

<!-- ===== Step 12 (delete 200) ===== -->
<g id="step12">
<g id="t12-connectors">
<line class="arr" x1="907.3" y1="2000.3" x2="989.3" y2="2000.3"/>
</g>
<text class="st" x="952.3" y="1992.3">200</text>
</g>
</svg>
